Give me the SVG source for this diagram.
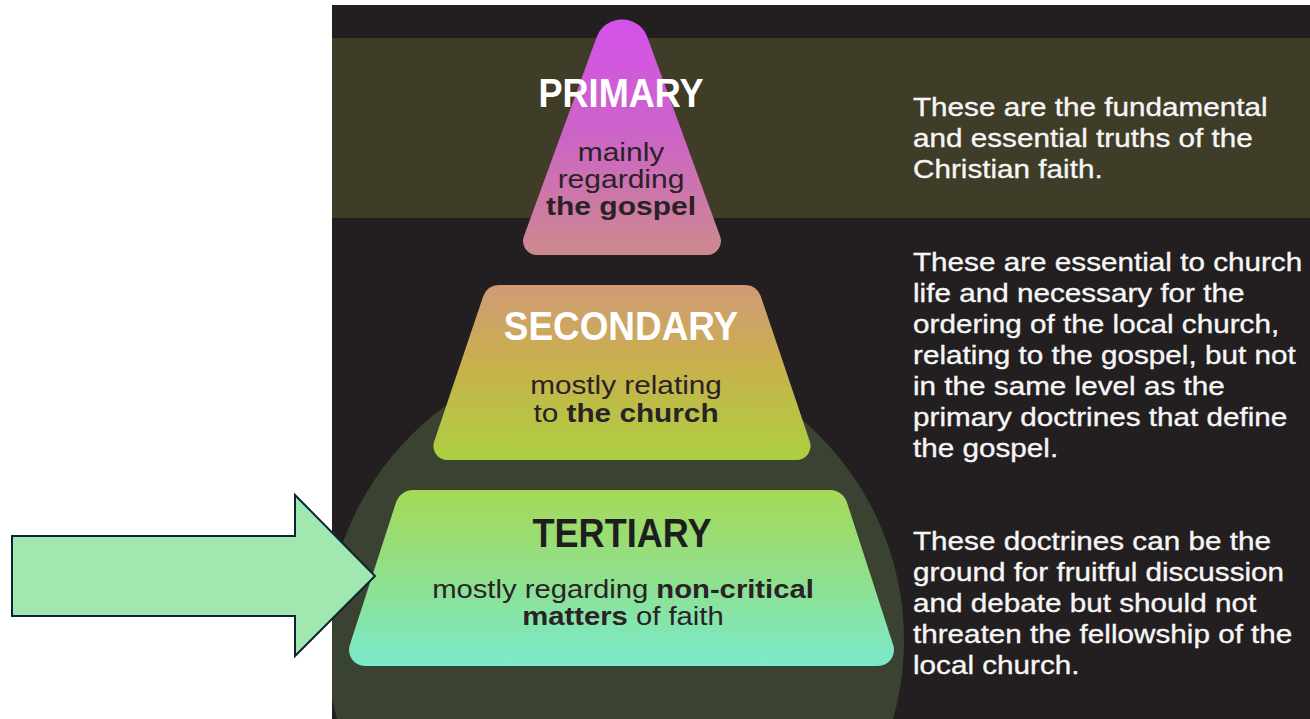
<svg xmlns="http://www.w3.org/2000/svg" width="1310" height="719" viewBox="0 0 1310 719">
  <defs>
    <linearGradient id="gPrim" x1="0" y1="18" x2="0" y2="255" gradientUnits="userSpaceOnUse">
      <stop offset="0" stop-color="#d452ec"/>
      <stop offset="0.5" stop-color="#cc64c6"/>
      <stop offset="1" stop-color="#cd8a8e"/>
    </linearGradient>
    <linearGradient id="gSec" x1="0" y1="285" x2="0" y2="460" gradientUnits="userSpaceOnUse">
      <stop offset="0" stop-color="#d09a78"/>
      <stop offset="0.45" stop-color="#c9b04c"/>
      <stop offset="1" stop-color="#acd040"/>
    </linearGradient>
    <linearGradient id="gTer" x1="0" y1="490" x2="0" y2="666" gradientUnits="userSpaceOnUse">
      <stop offset="0" stop-color="#a6d957"/>
      <stop offset="0.5" stop-color="#8fe08c"/>
      <stop offset="1" stop-color="#7aeacc"/>
    </linearGradient>
    <clipPath id="panelClip">
      <rect x="332" y="5" width="978" height="714"/>
    </clipPath>
    <style>
      .title { font-family: "Liberation Sans", Arial, sans-serif; font-weight: bold; font-size: 41px; text-anchor: middle; }
      .sub { font-family: "Liberation Sans", Arial, sans-serif; font-size: 25px; fill: #2a2226; text-anchor: middle; }
      .b { font-weight: bold; }
      .desc { font-family: "Liberation Sans", Arial, sans-serif; font-size: 26.5px; fill: #f6f6f6; stroke: #f6f6f6; stroke-width: 0.35px; }
    </style>
  </defs>

  <rect x="0" y="0" width="1310" height="719" fill="#ffffff"/>

  <g id="background">
    <rect x="332" y="5" width="978" height="714" fill="#231f20"/>
    <rect x="332" y="38" width="978" height="180" fill="#3f3c27"/>
    <circle cx="615" cy="640" r="289" fill="#3a4232" clip-path="url(#panelClip)"/>
  </g>

  <g id="primary">
    <path d="M 596.6 37.3 A 27 27 0 0 1 647.4 37.3 L 720.1 236.2 A 14 14 0 0 1 707 255 L 537 255 A 14 14 0 0 1 523.9 236.2 Z" fill="url(#gPrim)"/>
    <g transform="translate(621,0) scale(0.88,1)">
      <text class="title" x="0" y="107" fill="#ffffff">PRIMARY</text>
    </g>
    <g transform="translate(621,0) scale(1.2,1)">
      <text class="sub" x="0" y="161">mainly</text>
      <text class="sub" x="0" y="188">regarding</text>
      <text class="sub b" x="0" y="215">the gospel</text>
    </g>
  </g>

  <g id="secondary">
    <path d="M 498.5 285 L 745.5 285 A 16 16 0 0 1 760.7 295.9 L 809.8 441.5 A 14 14 0 0 1 796.5 460 L 447.5 460 A 14 14 0 0 1 434.2 441.5 L 483.3 295.9 A 16 16 0 0 1 498.5 285 Z" fill="url(#gSec)"/>
    <g transform="translate(621,0) scale(0.9,1)">
      <text class="title" x="0" y="340" fill="#ffffff">SECONDARY</text>
    </g>
    <g transform="translate(626,0) scale(1.19,1)">
      <text class="sub" x="0" y="394">mostly relating</text>
      <text class="sub" x="0" y="422">to <tspan class="b">the church</tspan></text>
    </g>
  </g>

  <g id="tertiary">
    <path d="M 413.1 490 L 829.9 490 A 18 18 0 0 1 847 502.5 L 893.2 645.1 A 16 16 0 0 1 878 666 L 365 666 A 16 16 0 0 1 349.8 645.1 L 396 502.5 A 18 18 0 0 1 413.1 490 Z" fill="url(#gTer)"/>
    <g transform="translate(622,0) scale(0.88,1)">
      <text class="title" x="0" y="547" fill="#1e1e1e">TERTIARY</text>
    </g>
    <g transform="translate(623,0) scale(1.17,1)">
      <text class="sub" x="0" y="598">mostly regarding <tspan class="b">non-critical</tspan></text>
      <text class="sub" x="0" y="625"><tspan class="b">matters</tspan> of faith</text>
    </g>
  </g>

  <g id="desc-primary" transform="translate(913,0) scale(1.12,1)">
    <text class="desc" x="0" y="116">These are the fundamental</text>
    <text class="desc" x="0" y="147">and essential truths of the</text>
    <text class="desc" x="0" y="178">Christian faith.</text>
  </g>

  <g id="desc-secondary" transform="translate(913,0) scale(1.12,1)">
    <text class="desc" x="0" y="271">These are essential to church</text>
    <text class="desc" x="0" y="302">life and necessary for the</text>
    <text class="desc" x="0" y="333">ordering of the local church,</text>
    <text class="desc" x="0" y="364">relating to the gospel, but not</text>
    <text class="desc" x="0" y="395">in the same level as the</text>
    <text class="desc" x="0" y="426">primary doctrines that define</text>
    <text class="desc" x="0" y="457">the gospel.</text>
  </g>

  <g id="desc-tertiary" transform="translate(913,0) scale(1.12,1)">
    <text class="desc" x="0" y="550">These doctrines can be the</text>
    <text class="desc" x="0" y="581">ground for fruitful discussion</text>
    <text class="desc" x="0" y="612">and debate but should not</text>
    <text class="desc" x="0" y="643">threaten the fellowship of the</text>
    <text class="desc" x="0" y="674">local church.</text>
  </g>

  <g id="connectors">
    <g id="arrow">
      <polygon points="12,536 295,536 295,495 375,576 295,656 295,616 12,616" fill="#a0e8b0" stroke="#0b2536" stroke-width="2" stroke-linejoin="miter"/>
    </g>
  </g>
</svg>
